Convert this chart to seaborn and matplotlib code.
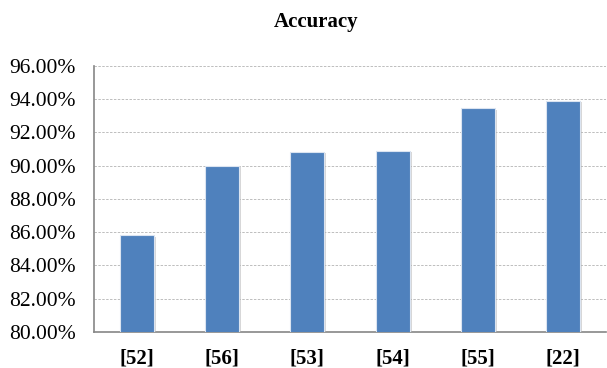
import matplotlib
matplotlib.use("Agg")
import matplotlib.pyplot as plt
import matplotlib.patheffects as pe
from matplotlib.ticker import FixedLocator, PercentFormatter
import seaborn as sns
import pandas as pd

refs = ["[52]", "[56]", "[53]", "[54]", "[55]", "[22]"]
accuracy = [85.8, 90.0, 90.85, 90.9, 93.45, 93.9]
yticks = [80, 82, 84, 86, 88, 90, 92, 94, 96]

sns.set_style("white")
plt.rcParams['font.family'] = ['Liberation Serif', 'DejaVu Serif']
plt.rcParams['text.color'] = 'black'
plt.rcParams['xtick.labelcolor'] = 'black'
plt.rcParams['ytick.labelcolor'] = 'black'

df = pd.DataFrame({'ref': refs, 'acc': accuracy})

fig = plt.figure(figsize=(6.07, 3.68), dpi=100)
ax = fig.add_axes([0.155, 0.098, 0.843, 0.723])

sns.barplot(data=df, x='ref', y='acc', color='#4F81BD', saturation=1,
            width=0.4, edgecolor='#dbe4f1', linewidth=0.8, ax=ax, zorder=3)
# soft shadow round the bars
for bar in ax.patches:
    bar.set_path_effects([pe.SimplePatchShadow(offset=(1.5, -1), shadow_rgbFace='#b0b0b0', alpha=0.5),
                          pe.Normal()])

ax.set_ylim(80, 96)
ax.set_yticks(yticks)
ax.yaxis.set_major_formatter(PercentFormatter(decimals=2))
ax.grid(axis='y', linestyle=(0, (2.5, 1.5)), color='#bdbdbd', linewidth=0.7, zorder=0)
ax.set_xlim(-0.5, 5.5)

# ticks between categories on the x axis
ax.xaxis.set_minor_locator(FixedLocator([i - 0.5 for i in range(7)]))
ax.tick_params(axis='x', which='major', length=0, pad=12)
ax.tick_params(axis='x', which='minor', length=5, width=1, color='#868686', direction='out')
ax.tick_params(axis='y', length=5, width=1, color='#868686', direction='out', pad=8)

for lab in ax.get_xticklabels():
    lab.set_fontweight('bold')
    lab.set_fontsize(15)
    lab.set_color('black')
for lab in ax.get_yticklabels():
    lab.set_fontsize(15.5)
    lab.set_color('black')

for s in ['top', 'right']:
    ax.spines[s].set_visible(False)
for s in ['left', 'bottom']:
    ax.spines[s].set_color('#868686')
    ax.spines[s].set_linewidth(1.2)

ax.set_xlabel('')
ax.set_ylabel('')
fig.text(0.52, 0.94, 'Accuracy', ha='center', va='center', fontsize=15,
         fontweight='bold', color='black')

fig.savefig('out.png', dpi=100)
